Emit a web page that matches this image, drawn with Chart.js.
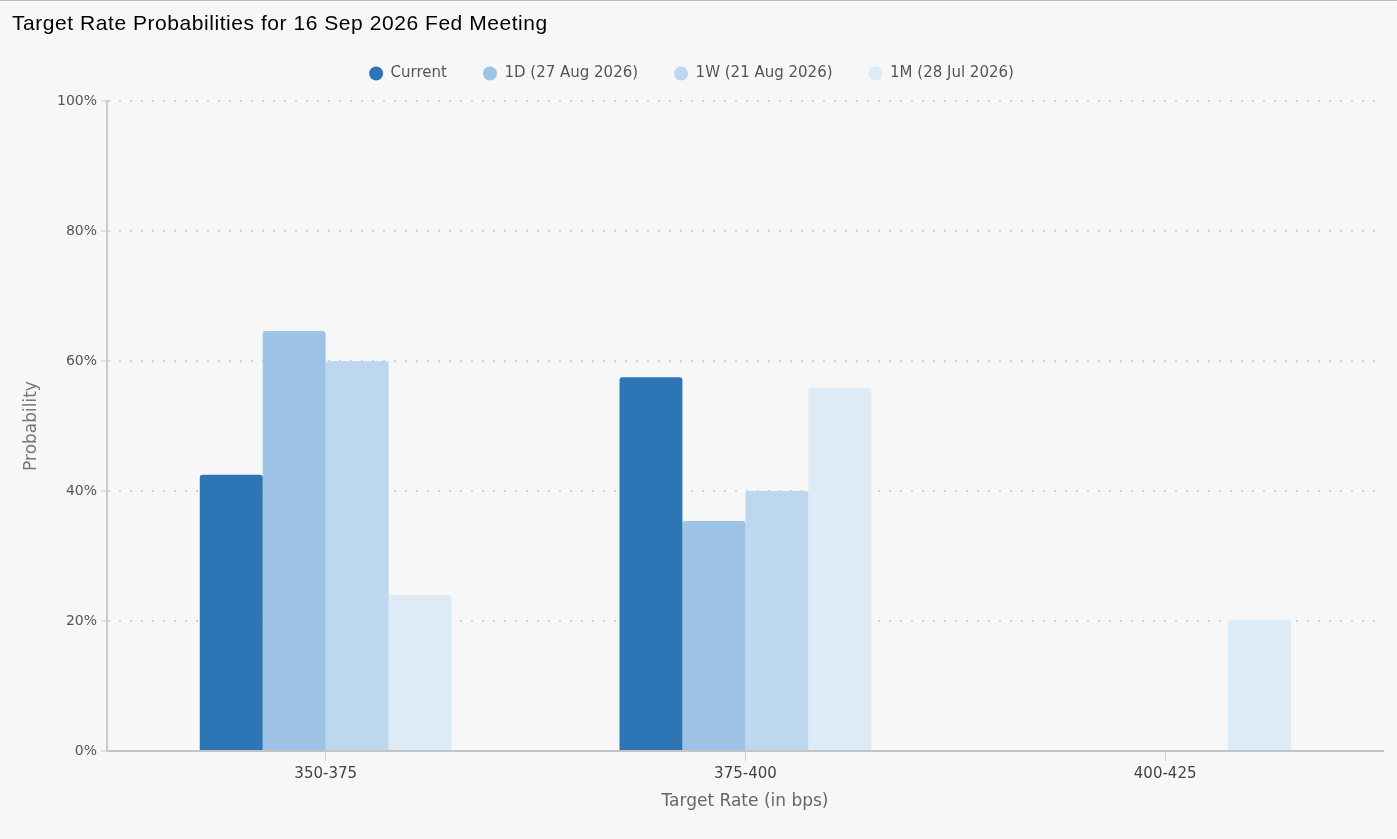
<!DOCTYPE html>
<html>
<head>
<meta charset="utf-8">
<script src="https://cdn.jsdelivr.net/npm/chart.js@4"></script>
<style>
  html, body { margin: 0; padding: 0; background: #f7f7f7; }
  #wrap { position: relative; width: 1397px; height: 839px; overflow: hidden; }
  #topline { position: absolute; left: 0; top: 0; width: 1397px; height: 1px; background: #bdbdbd; }
  #title { position: absolute; left: 12px; top: 11px; font-family: "Liberation Sans", Arial, sans-serif;
           font-size: 21px; letter-spacing: 0.55px; color: #000; white-space: nowrap; }
  #chartBox { position: absolute; left: 0; top: 0; width: 1397px; height: 839px; }
</style>
</head>
<body>
<div id="wrap">
  <div id="topline"></div>
  <div id="chartBox"><canvas id="rateChart"></canvas></div>
  <div id="title">Target Rate Probabilities for 16 Sep 2026 Fed Meeting</div>
</div>
<script>
// values (percent)
const categories = ['350-375', '375-400', '400-425'];
const seriesNames = ['Current', '1D (27 Aug 2026)', '1W (21 Aug 2026)', '1M (28 Jul 2026)'];
const current = [42.5, 57.5, 0];
const oneDay = [64.6, 35.4, 0];
const oneWeek = [60.0, 40.0, 0];
const oneMonth = [24.0, 55.8, 20.2];
const yTicks = [0, 20, 40, 60, 80, 100];

const colors = ['#2e75b6', '#9dc3e6', '#bdd7ee', '#ddebf7'];
const font = 'DejaVu Sans';

function makeDataset(i, values) {
    return {
        label: seriesNames[i],
        data: values,
        backgroundColor: colors[i],
        borderColor: colors[i],
        borderWidth: 0,
        borderRadius: { topLeft: 3, topRight: 3 },
        borderSkipped: 'bottom',
        barPercentage: 1,
        categoryPercentage: 0.6
    };
}

// leaves a little more room between the legend and the plot
const legendSpacer = {
    id: 'legendSpacer',
    afterInit(chart) {
        const legend = chart.legend;
        const fit = legend.fit;
        legend.fit = function () {
            fit.call(this);
            this.height += 10;
        };
    }
};

function createRateChart() {
    const ctx = document.getElementById('rateChart').getContext('2d');
    new Chart(ctx, {
        type: 'bar',
        data: {
            labels: categories,
            datasets: [
                makeDataset(0, current),
                makeDataset(1, oneDay),
                makeDataset(2, oneWeek),
                makeDataset(3, oneMonth)
            ]
        },
        plugins: [legendSpacer],
        options: {
            responsive: true,
            maintainAspectRatio: false,
            animation: false,
            layout: { padding: { top: 30, left: 0, right: 14, bottom: 0 } },
            plugins: {
                tooltip: { enabled: false },
                legend: {
                    position: 'top',
                    labels: {
                        usePointStyle: true,
                        pointStyle: 'circle',
                        pointStyleWidth: 14,
                        boxHeight: 10,
                        padding: 36,
                        color: '#555',
                        font: { family: font, size: 15 }
                    }
                }
            },
            scales: {
                x: {
                    afterFit: (scale) => { scale.height = 88; },
                    // small inset of the categories from both ends of the axis
                    afterBuildTicks: (scale) => {
                        scale._startValue -= 0.021;
                        scale._valueRange += 0.040;
                    },
                    grid: {
                        display: true,
                        drawOnChartArea: false,
                        offset: false,
                        tickLength: 10,
                        tickColor: '#cccccc',
                        tickWidth: 1
                    },
                    border: { display: true, color: '#c4c4c4', width: 2 },
                    ticks: { color: '#444', padding: 4, font: { family: font, size: 15 } },
                    title: {
                        display: true,
                        text: 'Target Rate (in bps)',
                        color: '#666',
                        font: { family: font, size: 17 },
                        padding: { top: 0, bottom: 27 }
                    }
                },
                y: {
                    min: 0,
                    max: 100,
                    afterFit: (scale) => { scale.width = 107; },
                    afterBuildTicks: (scale) => { scale.ticks = yTicks.map(v => ({ value: v })); },
                    grid: {
                        color: '#d3d3d3',
                        lineWidth: 2,
                        tickLength: 6,
                        tickColor: '#cccccc',
                        tickWidth: 1,
                        tickBorderDash: []
                    },
                    border: { display: true, color: '#cccccc', width: 2, dash: [2, 9] },
                    ticks: {
                        color: '#555',
                        padding: 4,
                        font: { family: font, size: 14 },
                        callback: (v) => v + '%'
                    },
                    title: {
                        display: true,
                        text: 'Probability',
                        color: '#777',
                        font: { family: font, size: 17 },
                        padding: { top: 21, bottom: 0 }
                    }
                }
            }
        }
    });
}

createRateChart();
</script>
</body>
</html>
